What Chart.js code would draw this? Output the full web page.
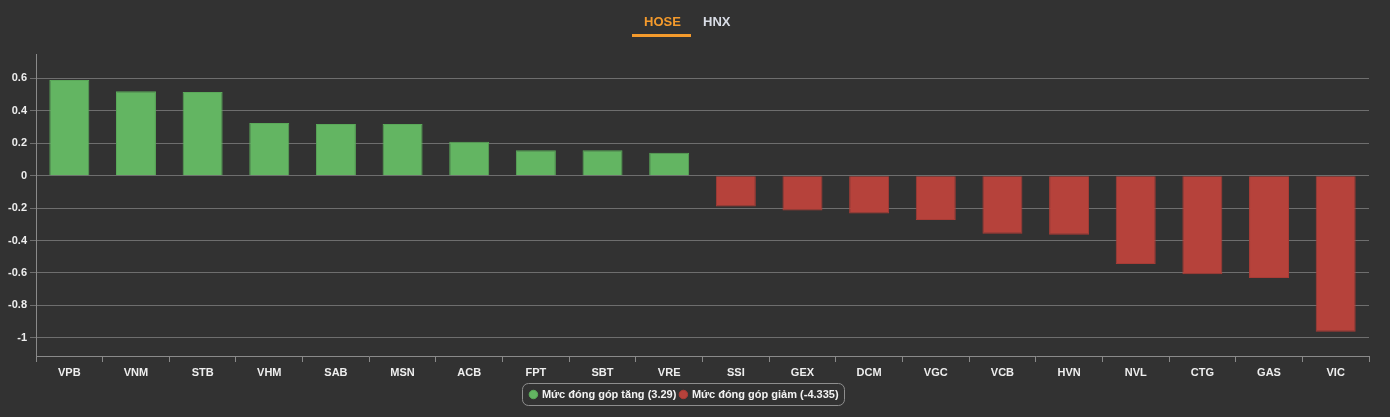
<!DOCTYPE html>
<html>
<head>
<meta charset="utf-8">
<script src="https://cdn.jsdelivr.net/npm/chart.js@4.4.1/dist/chart.umd.min.js"></script>
<style>
  html, body { margin:0; padding:0; background:#323232; width:1390px; height:417px; overflow:hidden; }
  #wrap { position:absolute; left:0; top:0; width:1390px; height:417px; }
  .tabs { position:absolute; top:12px; left:0; width:1390px; height:30px; font-family:"Liberation Sans", Arial, sans-serif; font-weight:bold; font-size:13px; }
  .tab { position:absolute; top:2px; }
  #hose { left:644px; color:#f49a2c; }
  #hnx { left:703px; color:#d9dde6; }
  #uline { position:absolute; left:632px; top:22px; width:59px; height:3px; background:#f49a2c; }
</style>
</head>
<body>
<div id="wrap"><canvas id="c" width="1390" height="417"></canvas></div>
<div class="tabs"><span class="tab" id="hose">HOSE</span><span class="tab" id="hnx">HNX</span><div id="uline"></div></div>
<script>
const categories = ['VPB','VNM','STB','VHM','SAB','MSN','ACB','FPT','SBT','VRE','SSI','GEX','DCM','VGC','VCB','HVN','NVL','CTG','GAS','VIC'];
const contributions = [0.590,0.520,0.516,0.325,0.319,0.319,0.209,0.157,0.157,0.141,-0.190,-0.215,-0.234,-0.273,-0.358,-0.364,-0.544,-0.608,-0.631,-0.963];
const yTickValues = [-1,-0.8,-0.6,-0.4,-0.2,0,0.2,0.4,0.6];
const legendLabels = ['Mức đóng góp tăng (3.29)','Mức đóng góp giảm (-4.335)'];
const tabLabels = ['HOSE','HNX'];

const upColor = '#63b562', downColor = '#b6423b';
const FONT = '"Liberation Sans", Arial, sans-serif';

const legendBox = {
  id: 'legendBox',
  afterDraw(chart) {
    const lg = chart.legend;
    if (!lg || !lg.legendHitBoxes || !lg.legendHitBoxes.length) return;
    const hb = lg.legendHitBoxes;
    const x0 = hb[0].left - 8, x1 = hb[hb.length-1].left + hb[hb.length-1].width + 6;
    const y0 = hb[0].top - 6, y1 = hb[0].top + hb[0].height + 5;
    const ctx = chart.ctx;
    ctx.save();
    ctx.strokeStyle = '#8e8e8e';
    ctx.lineWidth = 1;
    ctx.beginPath();
    ctx.roundRect(Math.round(x0)+0.5, Math.round(y0)+0.5, Math.round(x1-x0), Math.round(y1-y0), 6);
    ctx.stroke();
    ctx.restore();
  }
};

new Chart(document.getElementById('c'), {
  type: 'bar',
  data: {
    labels: categories,
    datasets: [
      { label: legendLabels[0], data: contributions.map(v => v > 0 ? v : null), backgroundColor: upColor, borderColor: '#5aa959', borderWidth: 1 },
      { label: legendLabels[1], data: contributions.map(v => v < 0 ? v : null), backgroundColor: downColor, borderColor: '#a83c36', borderWidth: 1 }
    ]
  },
  options: {
    responsive: false,
    animation: false,
    grouped: false,
    categoryPercentage: 1,
    barPercentage: 0.6,
    layout: { padding: { top: 54, right: 21, left: 0, bottom: 7 } },
    scales: {
      x: {
        grid: { display: true, drawOnChartArea: false, drawTicks: true, tickLength: 6, color: '#8a8a8a', offset: true },
        border: { display: true, color: '#8a8a8a' },
        ticks: { color: '#eeeeee', font: { family: FONT, size: 11, weight: 'bold' }, padding: 4, maxRotation: 0 },
        afterFit(s) { s.height = 29; }
      },
      y: {
        min: -1.112, max: 0.75,
        afterBuildTicks(s) { s.ticks = yTickValues.map(v => ({ value: v })); },
        grid: { color: '#6e6e6e', tickLength: 6, drawTicks: true },
        border: { display: true, color: '#8a8a8a' },
        ticks: { color: '#eeeeee', font: { family: FONT, size: 11, weight: 'bold' }, padding: 3, callback: v => String(v) },
        afterFit(s) { s.width = 36; }
      }
    },
    plugins: {
      legend: {
        position: 'bottom',
        labels: { color: '#f2f2f2', font: { family: FONT, size: 11, weight: 'bold' }, usePointStyle: true, pointStyle: 'circle', boxWidth: 6, boxHeight: 6, padding: 4 }
      },
      tooltip: { enabled: false }
    }
  },
  plugins: [legendBox]
});
</script>
</body>
</html>
